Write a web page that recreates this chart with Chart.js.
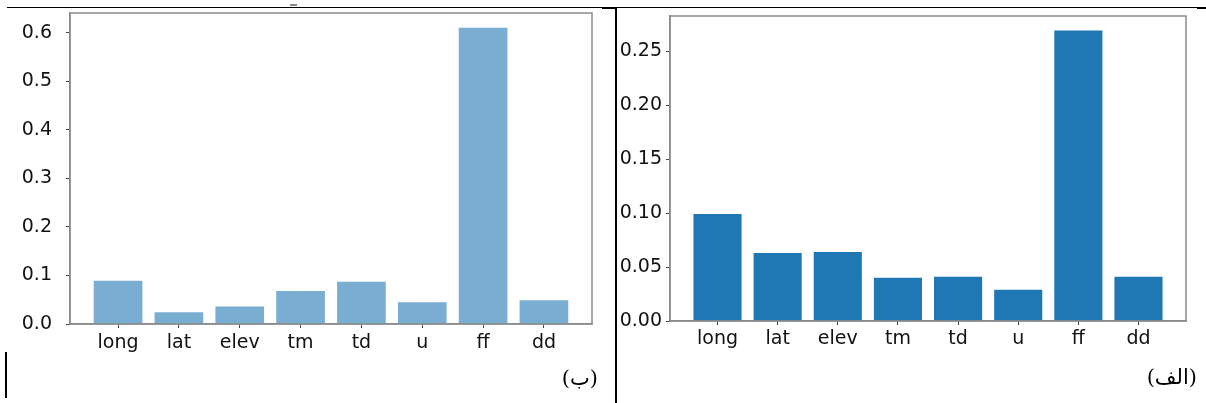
<!DOCTYPE html>
<html>
<head>
<meta charset="utf-8">
<script src="https://cdn.jsdelivr.net/npm/chart.js@4.4.1/dist/chart.umd.min.js"></script>
<style>
  html, body { margin: 0; padding: 0; background: #fff; }
  body { width: 1206px; height: 403px; position: relative; overflow: hidden; }
  canvas { position: absolute; top: 0; }
  .ln { position: absolute; background: #000; }
  .lbl { position: absolute; font-family: 'DejaVu Serif', 'Liberation Serif', 'DejaVu Sans', serif; font-size: 21px; line-height: 24px; color: #000; direction: rtl; white-space: nowrap; }
</style>
</head>
<body>
<canvas id="cB" width="610" height="403" style="left:0px"></canvas>
<canvas id="cA" width="596" height="403" style="left:610px"></canvas>

<div class="ln" style="left:7px;top:7px;width:1190px;height:1px"></div>
<div class="ln" style="left:1197px;top:7px;width:9px;height:2px"></div>
<div class="ln" style="left:602px;top:7px;width:14px;height:2px"></div>
<div class="ln" style="left:615px;top:7px;width:2px;height:396px"></div>
<div class="ln" style="left:5px;top:352px;width:2px;height:46px"></div>
<div class="ln" style="left:290px;top:4px;width:7px;height:2px;background:#888"></div>

<div class="lbl" style="right:608px;top:366px">(ب)</div>
<div class="lbl" style="right:9px;top:365px">(الف)</div>

<script>
const categories = ['long', 'lat', 'elev', 'tm', 'td', 'u', 'ff', 'dd'];
const valuesB = [0.089, 0.024, 0.036, 0.068, 0.087, 0.045, 0.610, 0.049];
const valuesAlef = [0.099, 0.063, 0.064, 0.040, 0.041, 0.029, 0.269, 0.041];
const yTicksB = [0.0, 0.1, 0.2, 0.3, 0.4, 0.5, 0.6];
const yTicksAlef = [0.00, 0.05, 0.10, 0.15, 0.20, 0.25];

const FONT = { family: "'DejaVu Sans', 'Open Sans', sans-serif", size: 19 };

const framePlugin = {
  id: 'frame',
  afterDatasetsDraw(chart) {
    const a = chart.chartArea, ctx = chart.ctx;
    ctx.save();
    ctx.strokeStyle = '#8a8a8a';
    ctx.lineWidth = 1.5;
    ctx.strokeRect(a.left, a.top, a.right - a.left, a.bottom - a.top);
    ctx.restore();
  }
};

function makeChart(id, values, yTicks, decimals, color, cfg) {
  const n = categories.length;
  const xMargin = (n - 1 + 0.8) * 0.05;
  return new Chart(document.getElementById(id), {
    type: 'bar',
    data: {
      datasets: [{
        data: categories.map((c, i) => ({ x: i, y: values[i] })),
        backgroundColor: color,
        borderWidth: 0,
        barPercentage: 0.8,
        categoryPercentage: 1.0
      }]
    },
    plugins: [framePlugin],
    options: {
      responsive: false,
      animation: false,
      devicePixelRatio: 1,
      layout: { padding: { top: cfg.top, right: cfg.right, left: 0, bottom: 0 } },
      plugins: { legend: { display: false }, tooltip: { enabled: false }, title: { display: false } },
      scales: {
        x: {
          type: 'linear',
          offset: false,
          min: -0.4 - xMargin,
          max: n - 1 + 0.4 + xMargin,
          afterBuildTicks: s => { s.ticks = categories.map((c, i) => ({ value: i })); },
          afterFit: s => { s.height = cfg.xh; s.paddingLeft = 0; s.paddingRight = 0; },
          ticks: {
            autoSkip: false, maxRotation: 0, minRotation: 0,
            padding: cfg.xpad,
            font: FONT, color: '#111',
            callback: v => categories[v]
          },
          grid: { display: true, offset: false, drawOnChartArea: false, drawTicks: true, tickLength: 4, tickColor: '#444' },
          border: { display: true, color: '#8a8a8a', width: 1.5 }
        },
        y: {
          type: 'linear',
          min: 0,
          max: Math.max(...values) * 1.05,
          afterBuildTicks: s => { s.ticks = yTicks.map(v => ({ value: v })); },
          afterFit: s => { s.width = cfg.yw; s.paddingTop = 0; s.paddingBottom = 0; },
          ticks: {
            padding: cfg.ypad,
            font: FONT, color: '#111',
            callback: v => Number(v).toFixed(decimals)
          },
          grid: { display: true, drawOnChartArea: false, drawTicks: true, tickLength: 4, tickColor: '#444' },
          border: { display: true, color: '#8a8a8a', width: 1.5 }
        }
      }
    }
  });
}

makeChart('cB', valuesB, yTicksB, 1, '#79add2', { top: 13, right: 18, xh: 79, yw: 70, ypad: 14, xpad: 4 });
makeChart('cA', valuesAlef, yTicksAlef, 2, '#1f77b4', { top: 16, right: 20, xh: 82, yw: 60, ypad: 4, xpad: 3 });
</script>
</body>
</html>
